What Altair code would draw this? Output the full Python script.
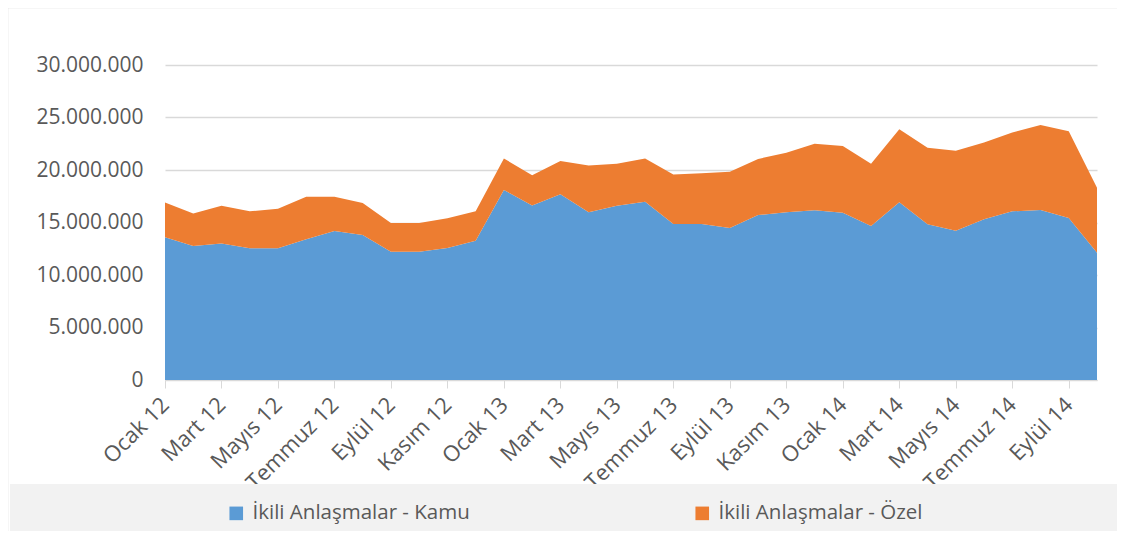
import altair as alt
import pandas as pd

months_tr = ["Ocak", "Şubat", "Mart", "Nisan", "Mayıs", "Haziran",
             "Temmuz", "Ağustos", "Eylül", "Ekim", "Kasım", "Aralık"]
years = ["12", "13", "14"]
periods = [f"{m} {y}" for y in years for m in months_tr][:34]

kamu = [13.6, 12.76, 13.0, 12.54, 12.54, 13.4, 14.19, 13.8, 12.22, 12.22, 12.57, 13.27,
        18.1, 16.63, 17.68, 15.97, 16.6, 16.98, 14.86, 14.86, 14.48, 15.71, 15.97, 16.16,
        15.94, 14.67, 16.92, 14.83, 14.22, 15.3, 16.06, 16.19, 15.43, 12.13]
toplam = [16.9, 15.85, 16.6, 16.06, 16.3, 17.46, 17.46, 16.86, 14.95, 14.95, 15.4, 16.06,
          21.1, 19.5, 20.86, 20.44, 20.6, 21.1, 19.56, 19.7, 19.84, 21.05, 21.65, 22.5,
          22.29, 20.6, 23.87, 22.13, 21.84, 22.63, 23.58, 24.28, 23.68, 18.32]
ozel = [round(t - k, 2) for t, k in zip(toplam, kamu)]

series = ["İkili Anlaşmalar - Kamu", "İkili Anlaşmalar - Özel"]
colors = ["#5b9bd5", "#ed7d31"]
tick_labels = periods[::2]
y_ticks = [0, 5000000, 10000000, 15000000, 20000000, 25000000, 30000000]

rows = []
for i, p in enumerate(periods):
    rows.append({"donem": p, "seri": series[0], "deger": kamu[i] * 1e6, "sira": 0})
    rows.append({"donem": p, "seri": series[1], "deger": ozel[i] * 1e6, "sira": 1})
df = pd.DataFrame(rows)

FONT = "Open Sans"
TXT = "#595959"
W, H = 932, 315

area = alt.Chart(df).mark_area(strokeWidth=0).encode(
    x=alt.X("donem:O", sort=periods,
            scale=alt.Scale(type="point", padding=0),
            axis=alt.Axis(values=tick_labels, title=None, labelAngle=-45,
                          labelAlign="right", labelBaseline="middle",
                          labelFontSize=22, labelColor=TXT, labelFont=FONT,
                          labelPadding=13, tickSize=8, tickColor="#d9d9d9",
                          domainColor="#d9d9d9", grid=False)),
    y=alt.Y("deger:Q", stack="zero",
            scale=alt.Scale(domain=[0, 30000000], nice=False),
            axis=alt.Axis(values=y_ticks, title=None,
                          labelExpr="replace(format(datum.value, ',d'), /,/g, '.')",
                          labelFontSize=21, labelColor=TXT, labelFont=FONT,
                          labelPadding=22, ticks=False, domain=False,
                          gridColor="#d9d9d9", gridWidth=1.5)),
    color=alt.Color("seri:N", scale=alt.Scale(domain=series, range=colors),
                    legend=alt.Legend(title=None, orient="none", direction="horizontal",
                                      legendX=61, legendY=438,
                                      symbolType="square", symbolSize=185,
                                      symbolStrokeWidth=0, symbolOpacity=1,
                                      labelFontSize=20.5, labelColor=TXT, labelFont=FONT,
                                      labelOffset=6, columnPadding=222,
                                      labelLimit=400)),
    order=alt.Order("sira:Q"),
)

band = alt.Chart(alt.Data(values=[{}])).mark_rect(color="#f2f2f2").encode(
    x=alt.value(-155), x2=alt.value(W + 100),
    y=alt.value(419), y2=alt.value(H + 200),
)

left_line = alt.Chart(alt.Data(values=[{}])).mark_rule(
    color="#d9d9d9", strokeWidth=1.5).encode(
    x=alt.value(-157.5), y=alt.value(-57.5), y2=alt.value(H + 300),
)
top_line = alt.Chart(alt.Data(values=[{}])).mark_rule(
    color="#d9d9d9", strokeWidth=1.5).encode(
    x=alt.value(-157.5), x2=alt.value(W + 100), y=alt.value(-57.5),
)

chart = alt.layer(area, band, left_line, top_line).properties(
    width=W, height=H,
    autosize=alt.AutoSizeParams(type="none"),
    padding={"left": 157, "top": 57, "right": 20, "bottom": 151},
).configure(font=FONT).configure_view(stroke=None)

chart.save("out.html", embed_options={"renderer": "svg", "actions": False})
